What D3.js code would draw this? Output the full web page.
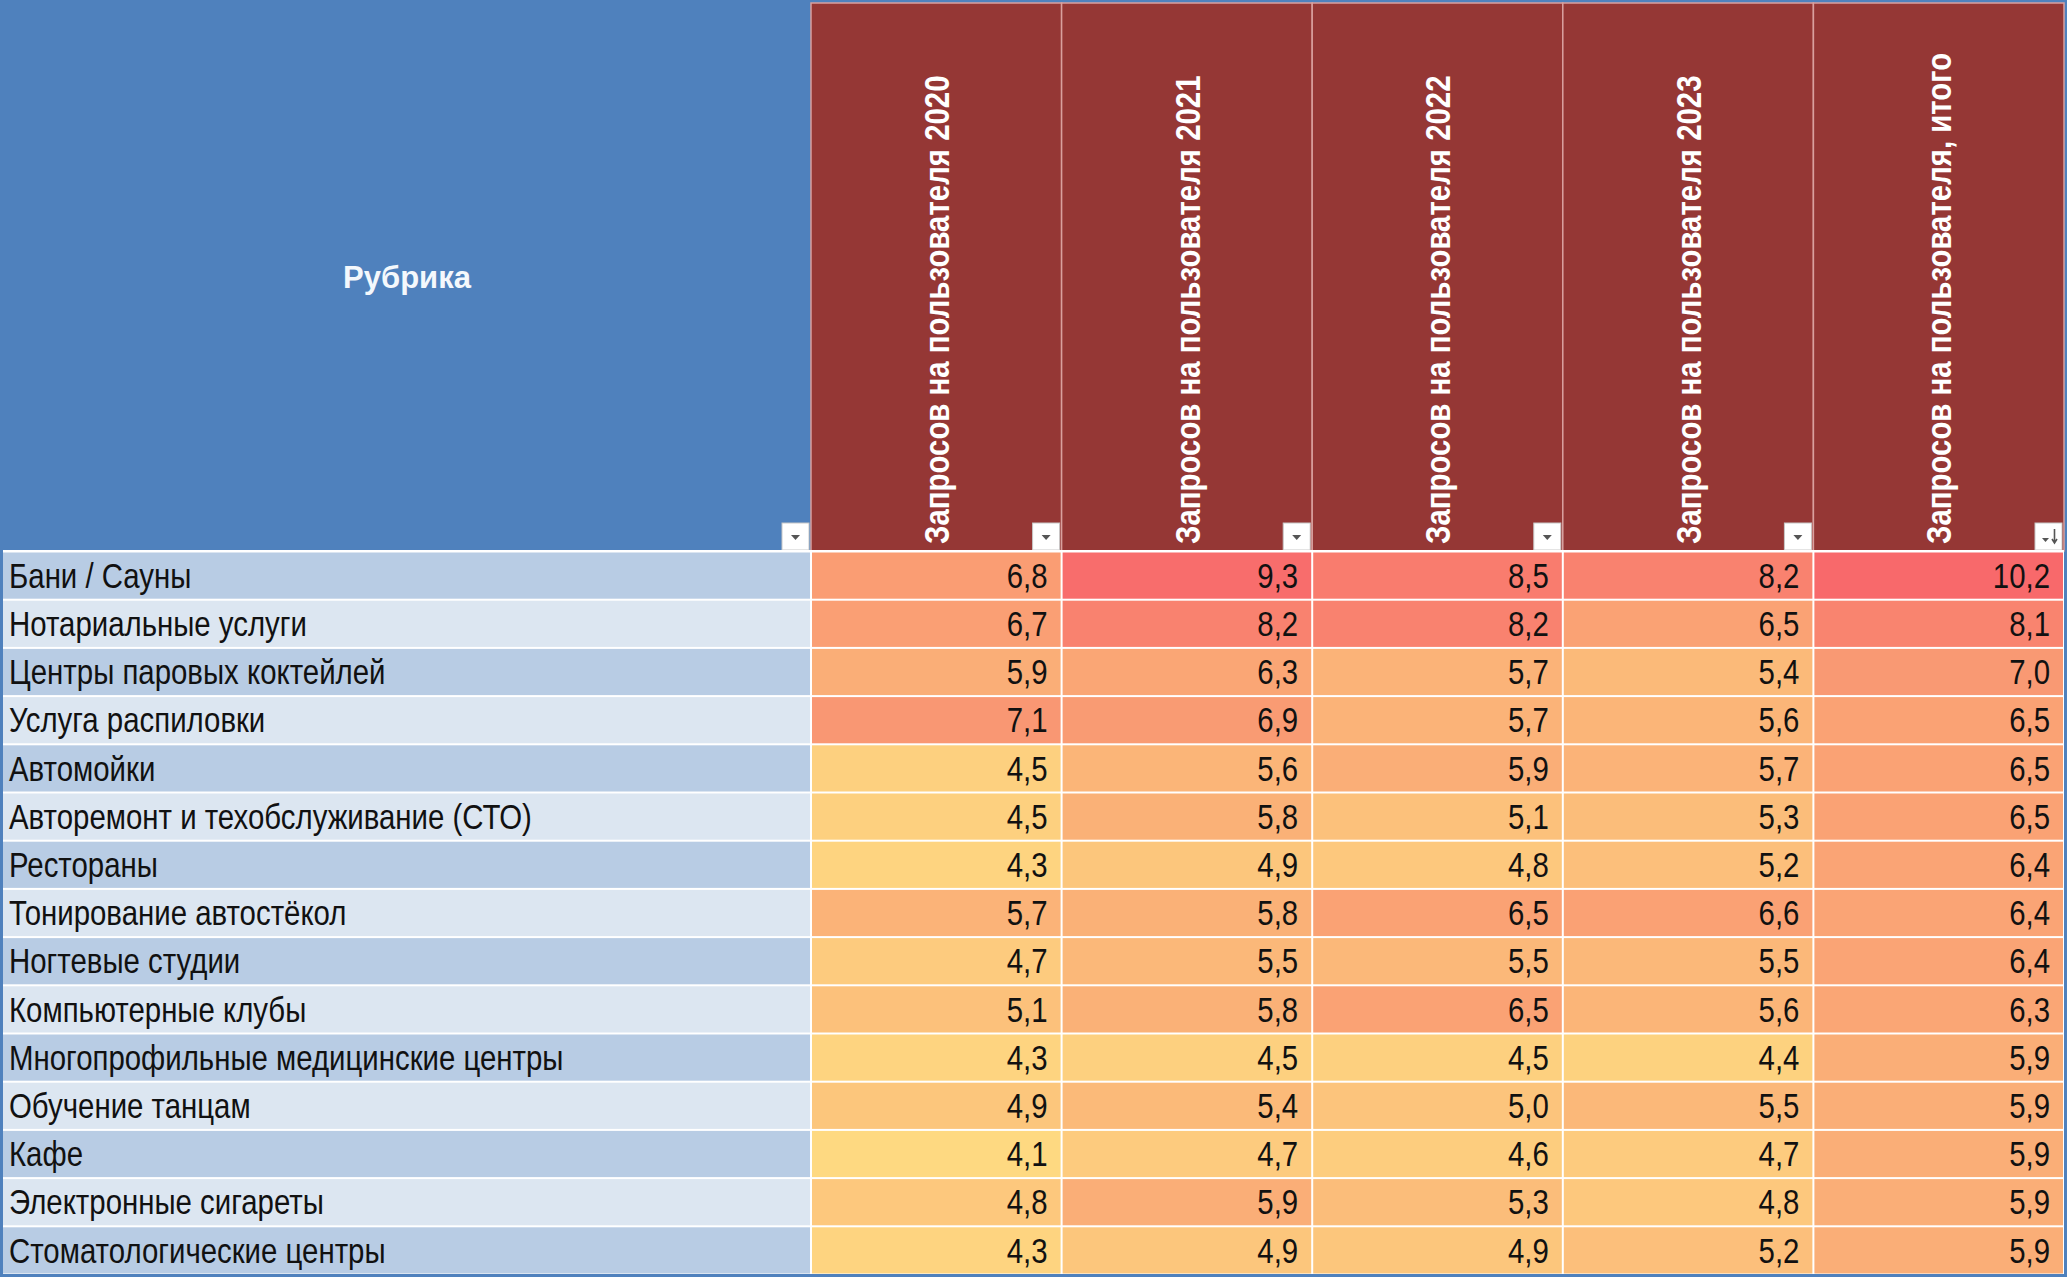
<!DOCTYPE html>
<html>
<head>
<meta charset="utf-8">
<script src="https://cdn.jsdelivr.net/npm/d3@7"></script>
<style>
  html, body { margin: 0; padding: 0; background: #fff; }
  svg { display: block; }
</style>
</head>
<body>
<div id="chart"></div>
<script>
// Table data
const categories = [
  "Бани / Сауны",
  "Нотариальные услуги",
  "Центры паровых коктейлей",
  "Услуга распиловки",
  "Автомойки",
  "Авторемонт и техобслуживание (СТО)",
  "Рестораны",
  "Тонирование автостёкол",
  "Ногтевые студии",
  "Компьютерные клубы",
  "Многопрофильные медицинские центры",
  "Обучение танцам",
  "Кафе",
  "Электронные сигареты",
  "Стоматологические центры"
];
const columns = [
  "Запросов на пользователя 2020",
  "Запросов на пользователя 2021",
  "Запросов на пользователя 2022",
  "Запросов на пользователя 2023",
  "Запросов на пользователя, итого"
];
const rubricTitle = "Рубрика";
const v2020 = [6.8, 6.7, 5.9, 7.1, 4.5, 4.5, 4.3, 5.7, 4.7, 5.1, 4.3, 4.9, 4.1, 4.8, 4.3];
const v2021 = [9.3, 8.2, 6.3, 6.9, 5.6, 5.8, 4.9, 5.8, 5.5, 5.8, 4.5, 5.4, 4.7, 5.9, 4.9];
const v2022 = [8.5, 8.2, 5.7, 5.7, 5.9, 5.1, 4.8, 6.5, 5.5, 6.5, 4.5, 5.0, 4.6, 5.3, 4.9];
const v2023 = [8.2, 6.5, 5.4, 5.6, 5.7, 5.3, 5.2, 6.6, 5.5, 5.6, 4.4, 5.5, 4.7, 4.8, 5.2];
const vTotal = [10.2, 8.1, 7.0, 6.5, 6.5, 6.5, 6.4, 6.4, 6.4, 6.3, 5.9, 5.9, 5.9, 5.9, 5.9];
const seriesValues = [v2020, v2021, v2022, v2023, vTotal];

document.addEventListener("DOMContentLoaded", function() {
  const width = 2067, height = 1277;
  const border = 3;
  const headerBottom = 551;
  const rubricRight = 811;
  const font = "'Liberation Sans', Arial, sans-serif";
  // No narrow face installed: squeeze the regular one horizontally.
  const narrowK = 0.84, headK = 0.84;

  const svg = d3.select("#chart").append("svg")
    .attr("width", width)
    .attr("height", height);

  // Outer frame colour shows through the borders.
  svg.append("rect")
    .attr("width", width).attr("height", height)
    .attr("fill", "#4f81bd");

  // Scales: value columns and rows.
  const x = d3.scaleBand()
    .domain(columns)
    .range([rubricRight, width - border]);
  const y = d3.scaleBand()
    .domain(categories)
    .range([headerBottom, height - border]);

  // Global colour scale (yellow -> orange -> red).
  const allValues = seriesValues.flat();
  const color = d3.scaleLinear()
    .domain([d3.min(allValues), 6.0, 9.5])
    .range(["#fed981", "#faac76", "#f8696b"])
    .clamp(true);

  // Header: rubric cell.
  svg.append("rect")
    .attr("x", border).attr("y", border)
    .attr("width", rubricRight - border).attr("height", headerBottom - border)
    .attr("fill", "#4f81bd");
  svg.append("text")
    .attr("x", 407).attr("y", 277)
    .attr("dy", "0.35em")
    .attr("text-anchor", "middle")
    .attr("fill", "#f4f8fc")
    .style("font-family", font)
    .style("font-weight", "bold")
    .style("font-size", "31px")
    .text(rubricTitle);

  // Header: value columns.
  const head = svg.append("g");
  head.selectAll("rect")
    .data(columns)
    .join("rect")
    .attr("x", d => x(d)).attr("y", border)
    .attr("width", x.bandwidth()).attr("height", headerBottom - border)
    .attr("fill", "#953735")
    .attr("stroke", "#d9a09e")
    .attr("stroke-width", 1.5);
  head.selectAll("text")
    .data(columns)
    .join("text")
    .attr("transform", d => `translate(${x(d) + x.bandwidth() / 2},${headerBottom - 7}) rotate(-90) scale(${headK},1)`)
    .attr("dy", "0.36em")
    .attr("fill", "#ffffff")
    .style("font-family", font)
    .style("font-weight", "bold")
    .style("font-size", "35px")
    .text(d => d);

  // Filter buttons.
  const btnSize = 27;
  const btnX = [rubricRight - 2].concat(columns.map(c => x(c) + x.bandwidth() - 2));
  const btns = svg.append("g").selectAll("g")
    .data(btnX)
    .join("g")
    .attr("transform", d => `translate(${d - btnSize},${headerBottom - btnSize - 1})`);
  btns.append("rect")
    .attr("width", btnSize).attr("height", btnSize)
    .attr("fill", "#ffffff")
    .attr("stroke", "#c8c8c8")
    .attr("stroke-width", 1);
  btns.append("path")
    .attr("d", (d, i) => i === btnX.length - 1
      ? "M7,15 L14,15 L10.5,19 Z"
      : "M9,12 L18,12 L13.5,17 Z")
    .attr("fill", "#555");
  // Sort arrow on the last column.
  btns.filter((d, i) => i === btnX.length - 1)
    .append("path")
    .attr("d", "M19.5,6 L19.5,19 M17,16 L19.5,20 L22,16")
    .attr("stroke", "#555")
    .attr("stroke-width", 1.6)
    .attr("fill", "none");

  // Body background: white grid lines between cells.
  svg.append("rect")
    .attr("x", border).attr("y", headerBottom - 1)
    .attr("width", width - 2 * border).attr("height", height - border - headerBottom + 1)
    .attr("fill", "#ffffff");

  // Body: rubric column.
  const rows = svg.append("g");
  rows.selectAll("rect")
    .data(categories)
    .join("rect")
    .attr("x", border).attr("y", d => y(d) + 1.5)
    .attr("width", rubricRight - border - 1).attr("height", y.bandwidth() - 2)
    .attr("fill", (d, i) => i % 2 === 0 ? "#b8cce4" : "#dce6f1");
  rows.selectAll("text")
    .data(categories)
    .join("text")
    .attr("transform", d => `translate(9,${y(d) + y.bandwidth() / 2}) scale(${narrowK},1)`)
    .attr("dy", "0.36em")
    .attr("fill", "#111")
    .style("font-family", font)
    .style("font-size", "35px")
    .text(d => d);

  // Body: value cells.
  const cells = [];
  columns.forEach((c, ci) => {
    seriesValues[ci].forEach((v, ri) => cells.push({ col: c, row: categories[ri], value: v }));
  });
  const cellG = svg.append("g");
  cellG.selectAll("rect")
    .data(cells)
    .join("rect")
    .attr("x", d => x(d.col) + 1).attr("y", d => y(d.row) + 1.5)
    .attr("width", x.bandwidth() - 2).attr("height", y.bandwidth() - 2)
    .attr("fill", d => color(d.value));
  const fmt = d3.format(".1f");
  cellG.selectAll("text")
    .data(cells)
    .join("text")
    .attr("transform", d => `translate(${x(d.col) + x.bandwidth() - 14},${y(d.row) + y.bandwidth() / 2}) scale(${narrowK},1)`)
    .attr("dy", "0.36em")
    .attr("text-anchor", "end")
    .attr("fill", "#111")
    .style("font-family", font)
    .style("font-size", "35px")
    .text(d => fmt(d.value).replace(".", ","));
});
</script>
</body>
</html>
